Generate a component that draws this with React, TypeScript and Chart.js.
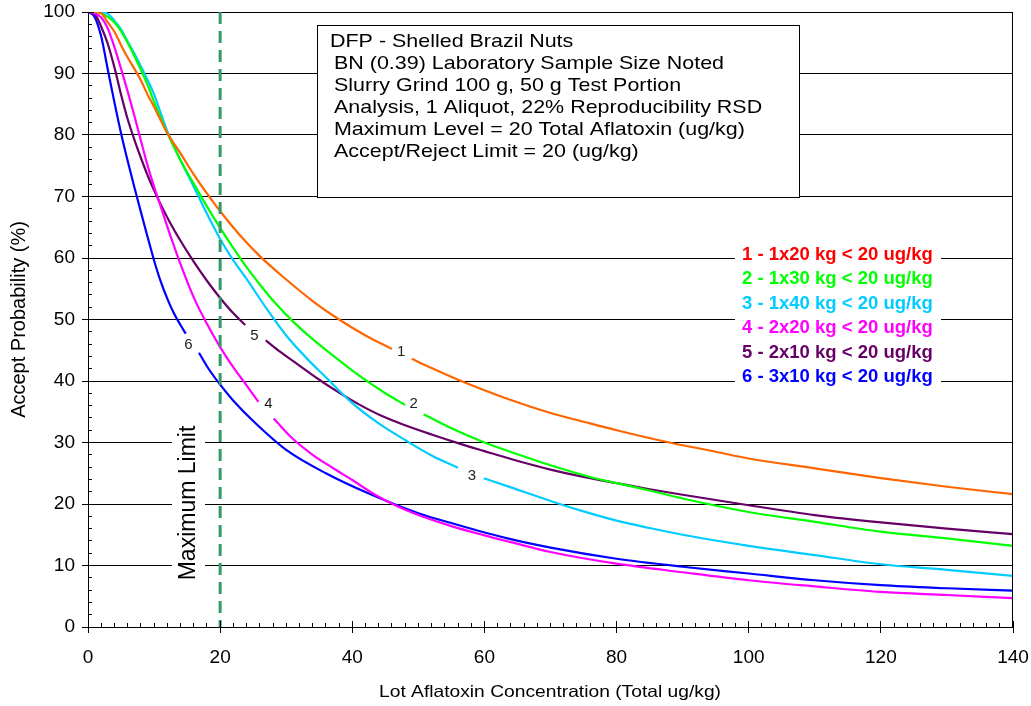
import React, { useEffect, useRef } from "react";
import { Chart, registerables } from "chart.js";

Chart.register(...registerables);

// ---------- data ----------
const X_TICK_STEP = 20;
const Y_TICK_STEP = 10;

const X1 = [0, 1, 2, 3, 4, 5, 6, 7, 8, 9, 10, 11, 12, 14, 16, 18, 20, 23, 26, 30, 34, 38, 42, 46, 47.5, 49, 52, 56, 60, 64, 70, 76, 80, 88, 95, 100, 110, 120, 130, 140];
const Y1 = [100, 100, 99.8, 98.3, 96.8, 94.6, 92.6, 90.8, 88.9, 86.6, 84.6, 82.4, 80.3, 77, 73.6, 70.5, 67.6, 63.7, 60.3, 56.5, 53, 50, 47.4, 45.2, null, 43.6, 42.1, 40.2, 38.5, 36.9, 34.8, 33.1, 32, 30, 28.5, 27.4, 25.8, 24.2, 22.8, 21.6];

const X2 = [0, 1, 2, 3, 4, 5, 6, 7, 8, 9, 10, 11, 12, 14, 16, 18, 20, 22, 24, 26, 28, 31, 34, 37, 41, 45, 48, 49.4, 50.8, 55, 60, 65, 70, 76, 80, 85, 90, 100, 110, 120, 130, 140];
const Y2 = [100, 100, 99.8, 99.2, 98.3, 96.9, 95, 92.9, 90.6, 88.2, 85.4, 82.8, 80.3, 75.9, 72.1, 68.4, 64.9, 61.6, 58.5, 55.7, 53.1, 49.7, 46.8, 44.2, 40.9, 38, 36.1, null, 34.6, 32.3, 30, 28.1, 26.3, 24.4, 23.4, 22.2, 20.9, 18.7, 17.1, 15.5, 14.4, 13.2];

const X3 = [0, 1, 2, 3, 4, 5, 6, 7, 8, 9, 10, 11, 12, 13, 14, 16, 18, 20, 22, 24, 27, 30, 33, 36, 40, 44, 48, 52, 56, 58.4, 59.9, 64, 70, 75, 80, 85, 90, 100, 110, 120, 130, 140];
const Y3 = [100, 100, 100, 99.7, 98.6, 97.2, 95.2, 93.3, 91.2, 89, 86.6, 83.6, 80.6, 78.2, 75.9, 71.6, 67.2, 63.1, 59.6, 56.6, 51.8, 47.4, 43.8, 40.6, 36.4, 33.1, 30.4, 27.9, 25.9, null, 24.2, 22.7, 20.5, 18.8, 17.3, 16.1, 15, 13.2, 11.7, 10.2, 9.3, 8.3];

const X4 = [0, 1, 2, 3, 4, 5, 6, 7, 8, 9, 10, 11, 12, 13, 14, 16, 18, 20, 22, 24, 25.8, 27, 28.1, 31, 34, 37, 40, 43, 46.5, 50, 55, 60, 64, 70, 80, 90, 100, 110, 120, 130, 140];
const Y4 = [100, 99.8, 99.1, 97.3, 94.3, 90.8, 87.1, 83.2, 79.1, 75.1, 71.6, 68.4, 65.1, 62, 59, 53.6, 49.3, 45.5, 42.2, 39.3, 36.6, null, 33.9, 30.6, 28, 25.9, 23.9, 21.8, 19.8, 18.2, 16.4, 14.9, 13.8, 12.2, 10.3, 8.9, 7.6, 6.6, 5.7, 5.2, 4.7];

const X5 = [0, 1, 2, 3, 4, 5, 6, 7, 8, 9, 10, 12, 14, 16, 18, 20, 22, 23.8, 25.3, 26.9, 29, 32, 35, 38, 41, 44.5, 48, 52, 56, 60, 64.4, 70, 75, 80, 85, 90, 100, 110, 120, 130, 140];
const Y5 = [100, 99.7, 97.6, 94.8, 91, 86.6, 82.6, 79.3, 76.3, 73.5, 71, 66.6, 62.8, 59.4, 56.3, 53.5, 51, 49.1, null, 46.6, 44.8, 42.5, 40.2, 38.1, 36.2, 34.3, 32.8, 31.3, 29.9, 28.6, 27.2, 25.6, 24.4, 23.4, 22.4, 21.5, 19.8, 18.2, 17, 16, 15.1];

const X6 = [0, 1, 2, 3, 4, 5, 6, 7, 8, 9, 10, 11, 12, 13, 14, 14.8, 15.8, 16.8, 18, 20, 22, 25, 30, 36, 42.5, 50, 55, 63.5, 70, 80, 90, 100, 110, 120, 130, 140];
const Y6 = [100, 99.2, 96, 90.6, 85.3, 80.3, 75.8, 71.6, 67.5, 63.5, 59.6, 56.2, 53.4, 51, 49.1, 47.7, null, 44.6, 42.4, 39.4, 36.8, 33.5, 28.8, 25, 21.7, 18.5, 16.9, 14.4, 12.9, 11.1, 9.8, 8.7, 7.6, 6.8, 6.3, 5.9];

const LIMIT_X = [20, 20];
const LIMIT_Y = [100, 0];

const SERIES_X = [X1, X2, X3, X4, X5, X6];
const SERIES_Y = [Y1, Y2, Y3, Y4, Y5, Y6];
const SERIES_COLORS = ["#FF6600", "#00FF00", "#00CCFF", "#FF00FF", "#660066", "#0000FF"];

const CURVE_NAMES = ["1", "2", "3", "4", "5", "6"];
const CURVE_LABEL_X = [47.4, 49.3, 58.1, 27.3, 25.2, 15.2];
const CURVE_LABEL_Y = [44.8, 36.3, 24.6, 36.3, 47.3, 45.9];

const LEGEND_LABELS = [
  "1 - 1x20 kg < 20 ug/kg",
  "2 - 1x30 kg < 20 ug/kg",
  "3 - 1x40 kg < 20 ug/kg",
  "4 - 2x20 kg < 20 ug/kg",
  "5 - 2x10 kg < 20 ug/kg",
  "6 - 3x10 kg < 20 ug/kg",
];
const LEGEND_COLORS = ["#FF0000", "#00FF00", "#00CCFF", "#FF00FF", "#660066", "#0000FF"];

const INFO_LINES = [
  "DFP - Shelled Brazil Nuts",
  "BN (0.39) Laboratory Sample Size Noted",
  "Slurry Grind 100 g, 50 g Test Portion",
  "Analysis, 1 Aliquot, 22% Reproducibility RSD",
  "Maximum Level = 20 Total Aflatoxin (ug/kg)",
  "Accept/Reject Limit = 20 (ug/kg)",
];
const LIMIT_LABEL = "Maximum Limit";
const X_TITLE = "Lot Aflatoxin Concentration (Total ug/kg)";
const Y_TITLE = "Accept Probability (%)";

// ---------- drawing ----------
const FONT = '"Liberation Sans", Arial, Helvetica, sans-serif';

function align(p: number) {
  return Math.round(p - 0.5) + 0.5;
}

function drawStretched(ctx: CanvasRenderingContext2D, text: string, x: number, y: number, sx: number) {
  ctx.save();
  ctx.translate(x, y);
  ctx.scale(sx, 1);
  ctx.fillText(text, 0, 0);
  ctx.restore();
}

const decorPlugin = {
  id: "decor",
  afterDraw(chart: any) {
    const { ctx, chartArea: a, scales } = chart;
    const xs = scales.x;
    const ys = scales.y;
    ctx.save();

    // right frame line
    ctx.strokeStyle = "#000";
    ctx.lineWidth = 1;
    ctx.beginPath();
    const rx = align(a.right - 1);
    ctx.moveTo(rx, a.top);
    ctx.lineTo(rx, a.bottom);
    ctx.stroke();

    // tick marks
    ctx.beginPath();
    for (let v = xs.min; v <= xs.max + 1e-9; v += 2) {
      const px = align(xs.getPixelForValue(v));
      const major = Math.abs(v % X_TICK_STEP) < 1e-9;
      ctx.moveTo(px, major ? a.bottom - 6 : a.bottom - 4);
      ctx.lineTo(px, major ? a.bottom + 6 : a.bottom);
    }
    for (let v = ys.min; v <= ys.max + 1e-9; v += 2) {
      const py = align(ys.getPixelForValue(v));
      const major = Math.abs(v % Y_TICK_STEP) < 1e-9;
      ctx.moveTo(major ? a.left - 6 : a.left, py);
      ctx.lineTo(major ? a.left + 6 : a.left + 4, py);
    }
    ctx.stroke();

    // info box
    ctx.fillStyle = "#fff";
    ctx.fillRect(317.5, 25.5, 482, 172);
    ctx.strokeStyle = "#000";
    ctx.strokeRect(317.5, 25.5, 482, 172);
    ctx.fillStyle = "#000";
    ctx.font = `19px ${FONT}`;
    ctx.textBaseline = "middle";
    ctx.textAlign = "left";
    const sxBox = 390 / ctx.measureText(INFO_LINES[1]).width;
    INFO_LINES.forEach((line, i) => {
      drawStretched(ctx, line, i === 0 ? 330 : 334, 42 + i * 21.9, sxBox);
    });

    // legend text block
    ctx.fillStyle = "#fff";
    ctx.fillRect(735, 242, 206, 147);
    ctx.font = `bold 18.5px ${FONT}`;
    LEGEND_LABELS.forEach((t, i) => {
      ctx.fillStyle = LEGEND_COLORS[i];
      ctx.fillText(t, 742, 254.5 + i * 24.5);
    });

    // Maximum Limit label
    ctx.fillStyle = "#fff";
    ctx.fillRect(172, 420, 33, 170);
    ctx.save();
    ctx.translate(188, 503);
    ctx.rotate(-Math.PI / 2);
    ctx.fillStyle = "#000";
    ctx.font = `23px ${FONT}`;
    ctx.textAlign = "center";
    ctx.fillText(LIMIT_LABEL, 0, 1);
    ctx.restore();

    // curve number labels
    ctx.fillStyle = "#222";
    ctx.font = `15px ${FONT}`;
    ctx.textAlign = "center";
    ctx.textBaseline = "middle";
    CURVE_NAMES.forEach((n, i) => {
      ctx.fillText(n, xs.getPixelForValue(CURVE_LABEL_X[i]), ys.getPixelForValue(CURVE_LABEL_Y[i]));
    });

    // axis titles
    ctx.fillStyle = "#000";
    ctx.font = `16.5px ${FONT}`;
    ctx.textAlign = "left";
    const sxT = 342 / ctx.measureText(X_TITLE).width;
    drawStretched(ctx, X_TITLE, 379, 692, sxT);

    ctx.save();
    ctx.translate(19, (a.top + a.bottom) / 2);
    ctx.rotate(-Math.PI / 2);
    ctx.font = `20px ${FONT}`;
    ctx.textAlign = "center";
    ctx.fillText(Y_TITLE, 0, 0);
    ctx.restore();

    ctx.restore();
  },
};

export default function App() {
  const canvasRef = useRef<HTMLCanvasElement | null>(null);

  useEffect(() => {
    document.body.style.margin = "0";
    const canvas = canvasRef.current;
    if (!canvas) return;

    const datasets: any[] = [
      {
        label: "Maximum Limit",
        data: LIMIT_X.map((x, i) => ({ x, y: LIMIT_Y[i] })),
        borderColor: "#339966",
        borderWidth: 3,
        borderDash: [12, 7],
        pointRadius: 0,
        tension: 0,
      },
    ];
    SERIES_X.forEach((xsArr, s) => {
      datasets.push({
        label: LEGEND_LABELS[s],
        data: xsArr.map((x, i) => ({ x, y: SERIES_Y[s][i] })),
        borderColor: SERIES_COLORS[s],
        borderWidth: 2.2,
        pointRadius: 0,
        cubicInterpolationMode: "monotone",
        spanGaps: false,
      });
    });

    const chart = new Chart(canvas, {
      type: "line",
      data: { datasets },
      options: {
        animation: false,
        responsive: true,
        maintainAspectRatio: false,
        events: [],
        layout: { padding: { left: 0, right: 18, top: 12, bottom: 0 } },
        plugins: {
          legend: { display: false },
          tooltip: { enabled: false },
        },
        scales: {
          x: {
            type: "linear",
            min: 0,
            max: 140,
            afterFit: (s: any) => {
              s.height = 79;
              s.paddingLeft = 0;
              s.paddingRight = 0;
            },
            ticks: {
              stepSize: X_TICK_STEP,
              color: "#000",
              padding: 19,
              font: { family: FONT, size: 19 },
              maxRotation: 0,
            },
            grid: { display: false, drawTicks: false },
            border: { display: true, color: "#000", width: 1 },
          },
          y: {
            type: "linear",
            min: 0,
            max: 100,
            afterFit: (s: any) => {
              s.width = 88;
              s.paddingTop = 0;
              s.paddingBottom = 0;
            },
            ticks: {
              stepSize: Y_TICK_STEP,
              color: "#000",
              padding: 13,
              font: { family: FONT, size: 19 },
            },
            grid: { display: true, color: "#000", lineWidth: 1, drawTicks: false },
            border: { display: true, color: "#000", width: 1 },
          },
        },
      },
      plugins: [decorPlugin],
    });

    return () => chart.destroy();
  }, []);

  return (
    <div style={{ position: "relative", width: 1031, height: 706, background: "#fff" }}>
      <canvas ref={canvasRef} />
    </div>
  );
}
